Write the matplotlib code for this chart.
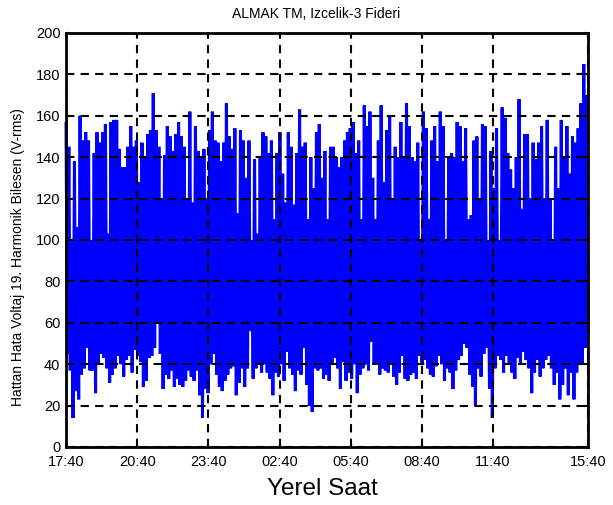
import matplotlib
matplotlib.use("Agg")
import matplotlib.pyplot as plt
import numpy as np

plt.rcParams["font.family"] = ["Liberation Sans", "DejaVu Sans"]

# peak (upper) values of the harmonic component, read left to right
highs_a = [157, 145, 100, 138, 106, 160, 148, 152, 148, 100, 142, 152, 147, 152, 156,
           103, 157, 158, 158, 144, 135, 135, 145, 155, 145, 148, 128, 147, 140, 151,
           153, 171, 153, 145, 120, 141, 155, 150, 143, 151, 157, 150, 145, 120, 162,
           118, 155, 143, 140, 144, 120, 153, 162, 148, 147, 138, 147, 166, 150]
highs_b = [144, 154, 113, 153, 148, 130, 148, 100, 139, 103, 140, 152, 150, 142, 148,
           110, 142, 152, 132, 118, 152, 145, 117, 142, 163, 145, 147, 110, 140, 125,
           152, 156, 130, 143, 110, 145, 145, 140, 135, 140, 148, 152, 154, 157, 142,
           148, 110, 165, 155, 162, 130, 110, 148, 165, 128, 153, 160, 120, 145, 140,
           157, 140, 166, 155, 140, 138]
highs_c = [147, 100, 162, 154, 110, 148, 155, 138, 162, 155, 100, 140, 142, 140, 157,
           155, 138, 154, 110, 112, 148, 150, 120, 156, 155, 100, 143, 125, 154, 100,
           164, 159, 142, 134, 125, 140, 168, 115, 151, 151, 120, 147, 139, 147, 155,
           120, 158, 120, 100, 145, 125, 158, 140, 155, 132, 150, 147, 154, 166, 185,
           170]

# trough (lower) values, same order
lows_a = [45, 37, 14, 27, 23, 35, 38, 48, 37, 37, 26, 40, 45, 43, 38,
          31, 35, 38, 44, 40, 34, 42, 44, 36, 47, 44, 41, 29, 32, 43,
          44, 48, 60, 45, 28, 35, 33, 37, 29, 33, 30, 29, 32, 37, 34,
          32, 37, 25, 14, 28, 26, 40, 45, 35, 29, 27, 32, 35, 38]
lows_b = [39, 25, 31, 38, 29, 38, 56, 33, 38, 40, 36, 40, 36, 33, 25,
          36, 34, 40, 32, 46, 38, 35, 27, 37, 35, 48, 30, 20, 17, 38,
          37, 38, 33, 35, 32, 40, 43, 38, 28, 41, 32, 36, 33, 40, 26,
          35, 38, 40, 37, 51, 40, 40, 35, 38, 37, 36, 40, 34, 30, 36,
          44, 33, 32, 35, 36, 33]
lows_c = [44, 40, 42, 38, 35, 34, 39, 44, 40, 32, 38, 36, 28, 37, 42,
          44, 50, 48, 35, 29, 20, 38, 34, 45, 48, 28, 14, 38, 44, 42,
          36, 44, 40, 36, 33, 43, 40, 46, 42, 38, 26, 36, 42, 34, 38,
          42, 44, 38, 30, 36, 23, 30, 38, 25, 36, 23, 36, 40, 40, 48,
          55]

tick_hours = [0, 3, 6, 9, 12, 15, 18, 22]
tick_labels = ["17:40", "20:40", "23:40", "02:40", "05:40", "08:40", "11:40", "15:40"]
span_hours = 22

highs = highs_a + highs_b + highs_c
lows = lows_a + lows_b + lows_c
values = np.empty(2 * len(highs))
values[0::2] = highs
values[1::2] = lows
hours = np.linspace(0, span_hours, len(values))

fig = plt.figure(figsize=(6.13, 5.05), dpi=100)
ax = fig.add_axes([0.1077, 0.1149, 0.8515, 0.8198])
ax.plot(hours, values, color="#0000ff", linewidth=2.2,
        solid_joinstyle="bevel", solid_capstyle="butt", clip_on=False, zorder=2)

ax.set_xlim(0, span_hours)
ax.set_ylim(0, 200)
ax.set_xticks(tick_hours, tick_labels)
ax.set_yticks(np.arange(0, 201, 20))
ax.tick_params(direction="in", length=3, width=1.5, top=True, right=True,
               labelsize=10.5, pad=4)
ax.tick_params(axis="x", pad=6)
ax.set_axisbelow(False)
ax.grid(True, color="black", linestyle=(0, (4, 3)), linewidth=1.5)
for spine in ax.spines.values():
    spine.set_linewidth(2)

fig.text(316 / 613, 1 - 14 / 505, "ALMAK TM, Izcelik-3 Fideri", ha="center", va="center", fontsize=10)
fig.text(322 / 613, 1 - 489 / 505, "Yerel Saat", ha="center", va="center", fontsize=17.5)
fig.text(18 / 613, 1 - 257 / 505, "Hattan Hata Voltaj 19. Harmonik Bilesen (V-rms)",
         ha="center", va="center", rotation=90, fontsize=10)

fig.savefig("out.png", dpi=100)
